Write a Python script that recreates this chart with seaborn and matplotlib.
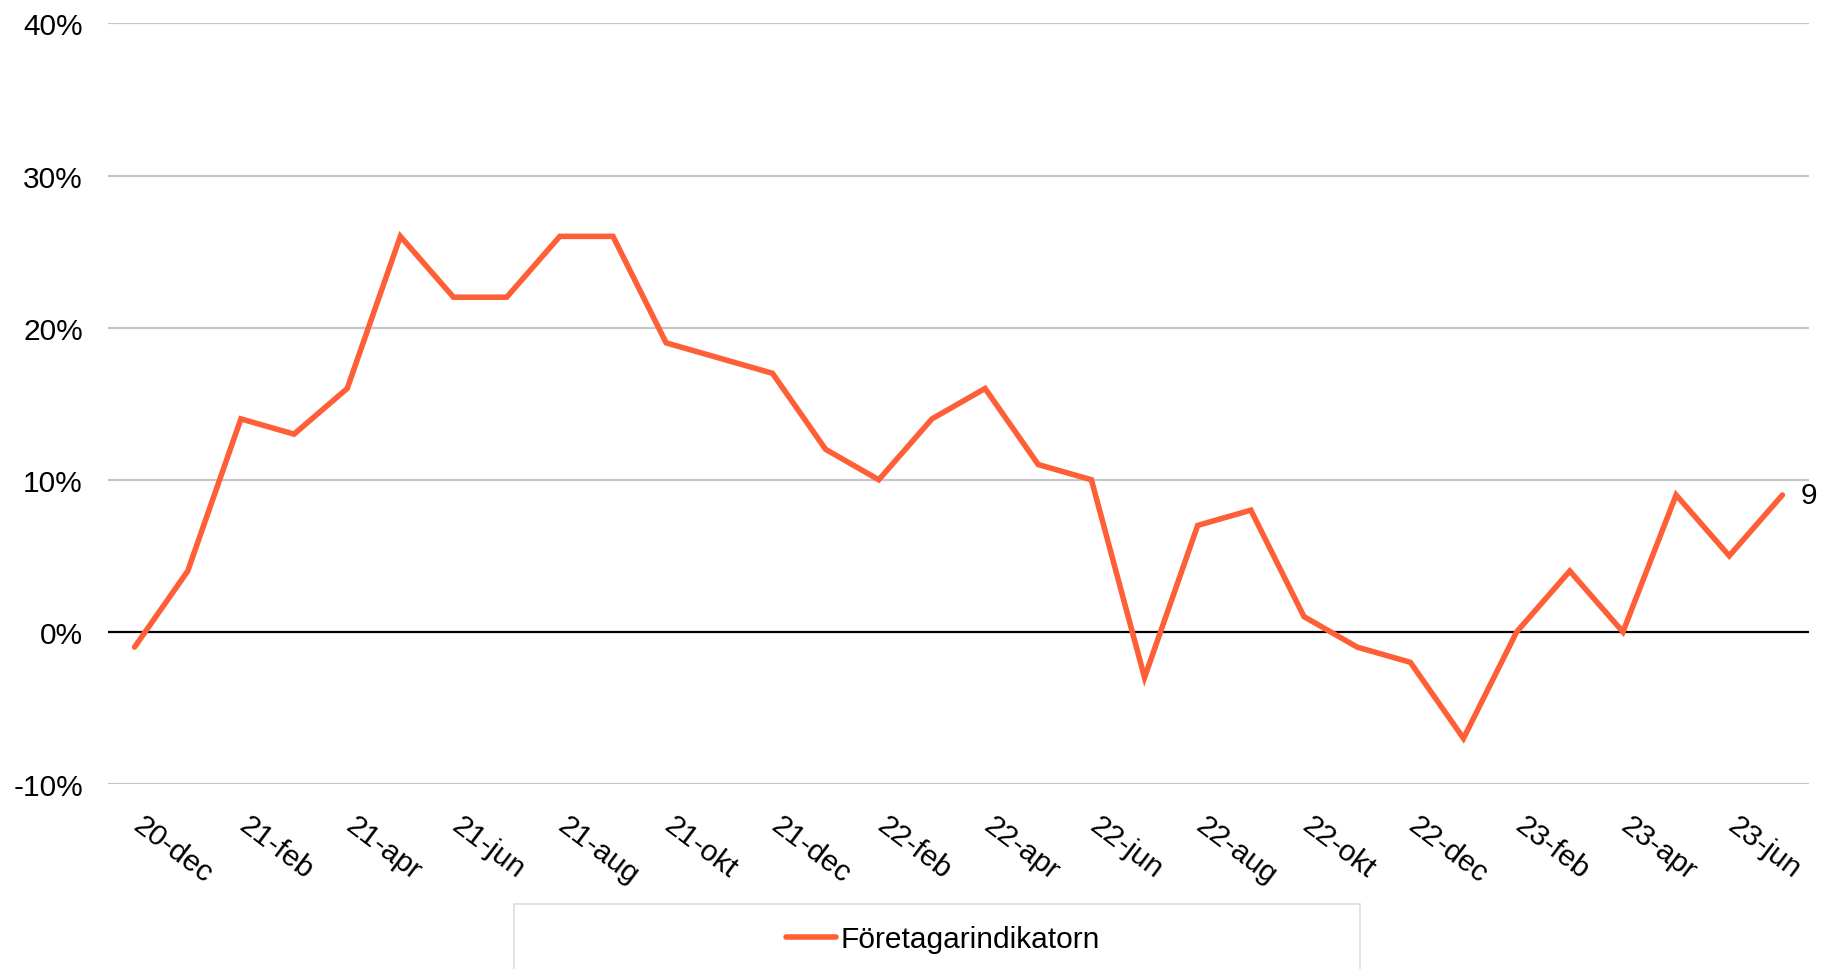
import pandas as pd
import matplotlib.pyplot as plt
import matplotlib.patches as mpatches
from matplotlib.transforms import ScaledTranslation
import seaborn as sns

months = [
    "20-dec", "21-jan", "21-feb", "21-mar", "21-apr", "21-maj", "21-jun", "21-jul",
    "21-aug", "21-sep", "21-okt", "21-nov", "21-dec", "22-jan", "22-feb", "22-mar",
    "22-apr", "22-maj", "22-jun", "22-jul", "22-aug", "22-sep", "22-okt", "22-nov",
    "22-dec", "23-jan", "23-feb", "23-mar", "23-apr", "23-maj", "23-jun", "23-jul",
]
values = [
    -1, 4, 14, 13, 16, 26, 22, 22,
    26, 26, 19, 18, 17, 12, 10, 14,
    16, 11, 10, -3, 7, 8, 1, -1,
    -2, -7, 0, 4, 0, 9, 5, 9,
]
yticks = [-10, 0, 10, 20, 30, 40]
series_name = "Företagarindikatorn"
line_color = "#FF5F36"

df = pd.DataFrame({"pos": range(len(months)), "month": months, "value": values})

sns.set_style("white")
plt.rcParams['font.family'] = ['Liberation Sans', 'DejaVu Sans']
plt.rcParams['text.color'] = 'black'
plt.rcParams['xtick.color'] = 'black'
plt.rcParams['ytick.color'] = 'black'

fs = 21.5

fig = plt.figure(figsize=(18.24, 9.70), dpi=100)
ax = fig.add_axes([108 / 1824, 1 - 785 / 970, (1809 - 108) / 1824, (785 - 24.4) / 970])

for y in yticks:
    if y == 0:
        continue
    ax.axhline(y, color="#C6C6C6", lw=1.6, zorder=0)
ax.axhline(0, color="black", lw=1.6, zorder=1)

sns.lineplot(data=df, x="pos", y="value", ax=ax, color=line_color, lw=4,
             solid_capstyle="round", solid_joinstyle="miter", label=series_name, legend=False)

ax.set_xlim(-0.5, len(months) - 0.5)
ax.set_ylim(-10, 40)
ax.set_yticks(yticks)
ax.set_yticklabels([f"{v}%" for v in yticks], fontsize=fs)
ax.tick_params(axis="y", length=0, pad=18)

tick_pos = list(range(0, len(months), 2))
ax.set_xticks(tick_pos)
ax.set_xticklabels([months[i] for i in tick_pos], fontsize=fs, rotation=-37,
                   ha="left", va="top")
ax.tick_params(axis="x", length=0, pad=19)
offset = ScaledTranslation(-7 / 100, 0, fig.dpi_scale_trans)
for lbl in ax.get_xticklabels():
    lbl.set_transform(lbl.get_transform() + offset)

ax.set_xlabel("")
ax.set_ylabel("")
sns.despine(ax=ax, left=True, bottom=True, top=True, right=True)

# end label
ax.annotate(str(values[-1]), (len(months) - 1, values[-1]), xytext=(13, 0),
            textcoords="offset points", fontsize=fs, va="center", ha="left",
            annotation_clip=False)

# legend box
box = mpatches.Rectangle((514 / 1824, -0.05), (1360 - 514) / 1824, 1 - 905 / 970 + 0.05,
                         transform=fig.transFigure, facecolor="white",
                         edgecolor="#DDDDDD", lw=1.2)
fig.patches.append(box)
handle = plt.Line2D([], [], color=line_color, lw=4, solid_capstyle="round")
fig.legend([handle], [series_name], loc="center", bbox_to_anchor=(943 / 1824, 1 - 940 / 970),
           frameon=False, fontsize=fs, handlelength=1.7, handletextpad=0.15)

fig.savefig("out.png", dpi=100)
